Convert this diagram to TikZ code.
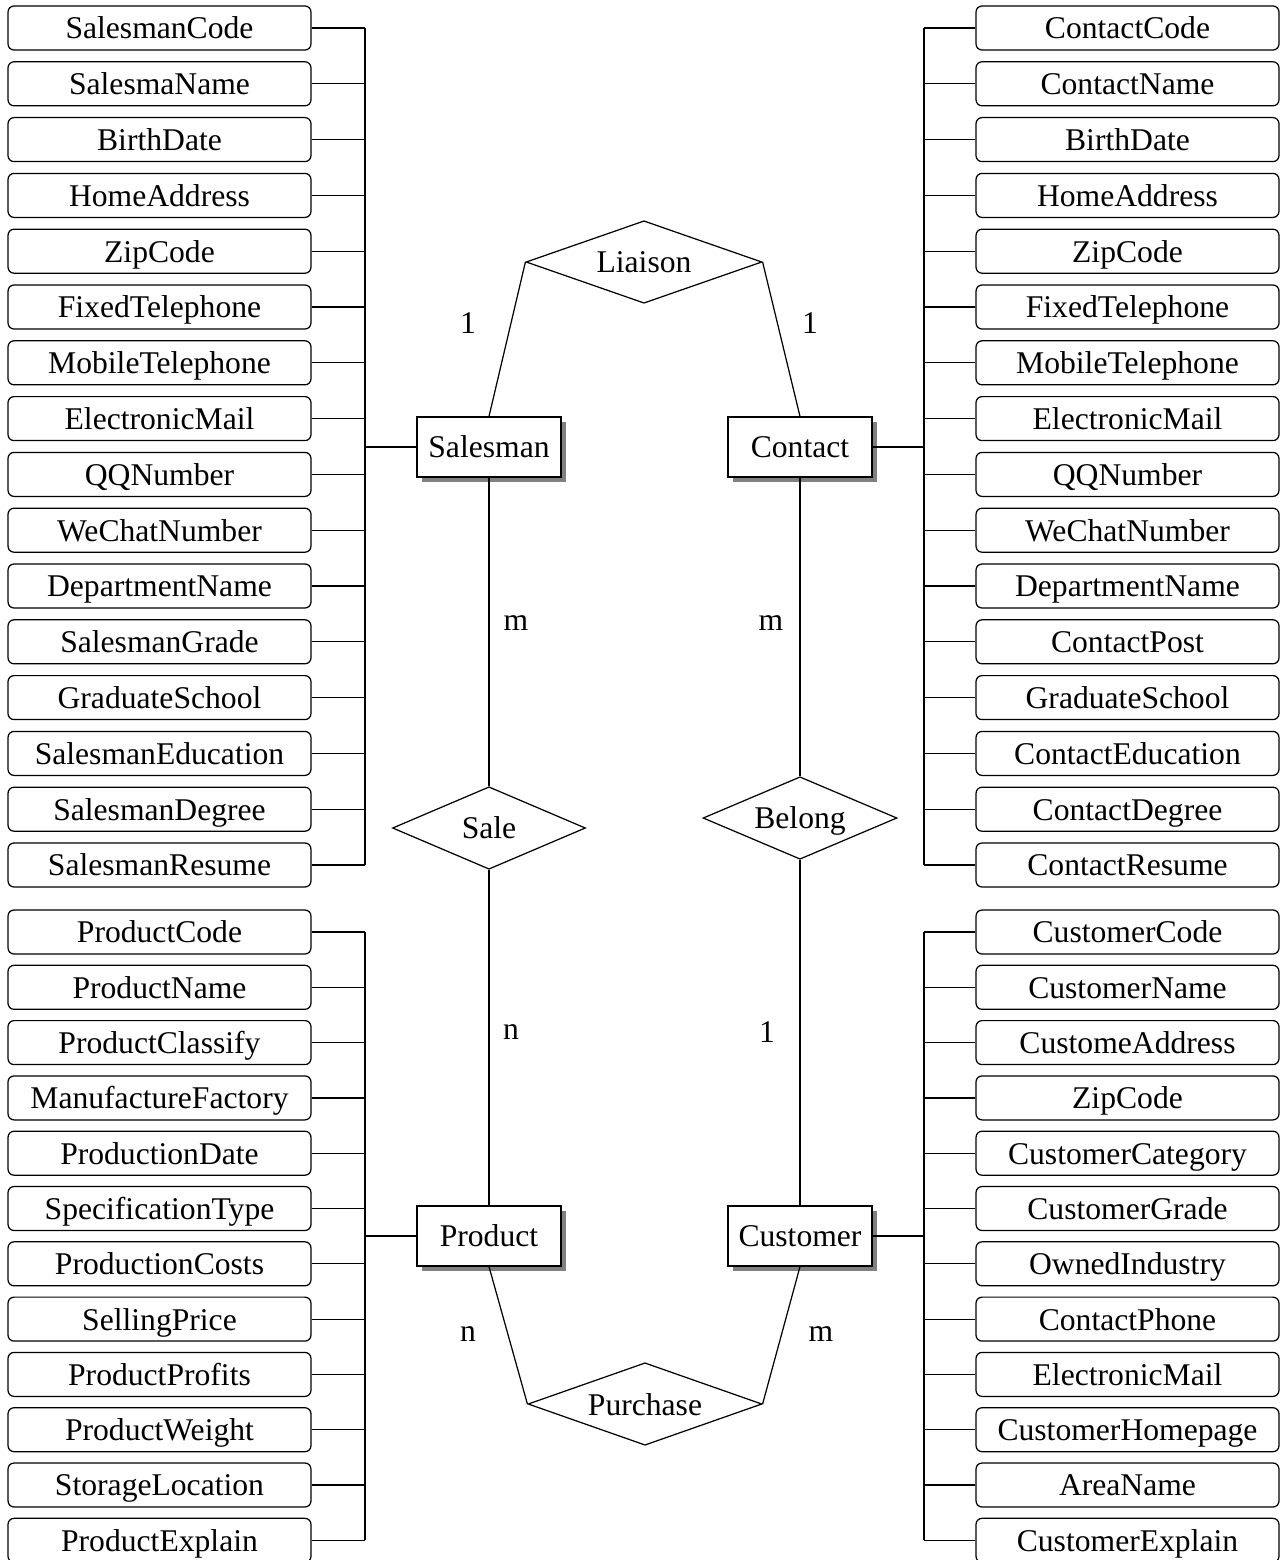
\documentclass[tikz,border=0pt]{standalone}
\usepackage{fontspec}
\setmainfont{Liberation Serif}
\usetikzlibrary{shapes,shadows}

\begin{document}
\begin{tikzpicture}[x=0.02cm,y=-0.02cm,line width=0.7pt,font=\fontsize{18}{21.6}\selectfont]
\tikzstyle{attr}=[draw,rounded corners=0.12cm,minimum width=6.06cm,minimum height=0.88cm,inner sep=0pt,
  text height=15pt,text depth=2.5pt];
\tikzstyle{ent}=[draw,fill=white,minimum width=2.88cm,minimum height=1.2cm,inner sep=0pt,
  text height=15pt,text depth=2.5pt,
  drop shadow={shadow xshift=0.1cm,shadow yshift=-0.1cm,fill=black!50,opacity=1}];
\tikzstyle{rel}=[draw,diamond,aspect=2.9,inner sep=0pt,minimum height=1.65cm,
  text height=15pt,text depth=2.5pt];
\tikzstyle{bus}=[line width=0.8pt];
\tikzstyle{link}=[line width=1.2pt];

\useasboundingbox (0,0) rectangle (1284,1560);

% entities
\node [ent] (salesman) at (489,447) {Salesman};
\node [ent] (contact) at (800,447) {Contact};
\node [ent] (product) at (489,1236) {Product};
\node [ent] (customer) at (800,1236) {Customer};

% relations
\node [rel,minimum width=4.72cm] (liaison) at (644,262) {Liaison};
\node [rel,minimum width=3.86cm] (sale) at (489,828) {Sale};
\node [rel,minimum width=3.88cm] (belong) at (800,818) {Belong};
\node [rel,minimum width=4.68cm] (purchase) at (645,1404) {Purchase};

\draw (liaison.west) -- (salesman.north);
\draw (liaison.east) -- (contact.north);
\draw (salesman) -- (sale) -- (product);
\draw (contact) -- (belong) -- (customer);
\draw (product.south) -- (purchase.west);
\draw (customer.south) -- (purchase.east);

% cardinalities
\node (c1) at (468,323) {1};
\node (c2) at (810,323) {1};
\node (c3) at (516,623) {m};
\node (c4) at (771,623) {m};
\node (c5) at (511,1032) {n};
\node (c6) at (767,1032) {1};
\node (c7) at (468,1334) {n};
\node (c8) at (821,1334) {m};

% bus junctions
\coordinate (sbus) at (365,447);
\coordinate (cbus) at (924,447);
\coordinate (pbus) at (365,1236);
\coordinate (ubus) at (924,1236);

% salesman attributes
\foreach \t [count=\i from 0] in {SalesmanCode,SalesmaName,BirthDate,HomeAddress,ZipCode,
  FixedTelephone,MobileTelephone,ElectronicMail,QQNumber,WeChatNumber,DepartmentName,
  SalesmanGrade,GraduateSchool,SalesmanEducation,SalesmanDegree,SalesmanResume}{
  \node [attr] (sa\i) at (159.5,28+55.8*\i) {\t};
  \draw (sa\i.east) -- (sa\i.east -| sbus);
}
\draw [bus] (sa0.east -| sbus) -- (sa15.east -| sbus);
\draw [link] (sbus) -- (salesman);

% contact attributes
\foreach \t [count=\i from 0] in {ContactCode,ContactName,BirthDate,HomeAddress,ZipCode,
  FixedTelephone,MobileTelephone,ElectronicMail,QQNumber,WeChatNumber,DepartmentName,
  ContactPost,GraduateSchool,ContactEducation,ContactDegree,ContactResume}{
  \node [attr] (ca\i) at (1127.5,28+55.8*\i) {\t};
  \draw (ca\i.west) -- (ca\i.west -| cbus);
}
\draw [bus] (ca0.west -| cbus) -- (ca15.west -| cbus);
\draw [link] (cbus) -- (contact);

% product attributes
\foreach \t [count=\i from 0] in {ProductCode,ProductName,ProductClassify,ManufactureFactory,
  ProductionDate,SpecificationType,ProductionCosts,SellingPrice,ProductProfits,
  ProductWeight,StorageLocation,ProductExplain}{
  \node [attr] (pa\i) at (159.5,932+55.3*\i) {\t};
  \draw (pa\i.east) -- (pa\i.east -| pbus);
}
\draw [bus] (pa0.east -| pbus) -- (pa11.east -| pbus);
\draw [link] (pbus) -- (product);

% customer attributes
\foreach \t [count=\i from 0] in {CustomerCode,CustomerName,CustomeAddress,ZipCode,
  CustomerCategory,CustomerGrade,OwnedIndustry,ContactPhone,ElectronicMail,
  CustomerHomepage,AreaName,CustomerExplain}{
  \node [attr] (ua\i) at (1127.5,932+55.3*\i) {\t};
  \draw (ua\i.west) -- (ua\i.west -| ubus);
}
\draw [bus] (ua0.west -| ubus) -- (ua11.west -| ubus);
\draw [link] (ubus) -- (customer);
\end{tikzpicture}
\end{document}
